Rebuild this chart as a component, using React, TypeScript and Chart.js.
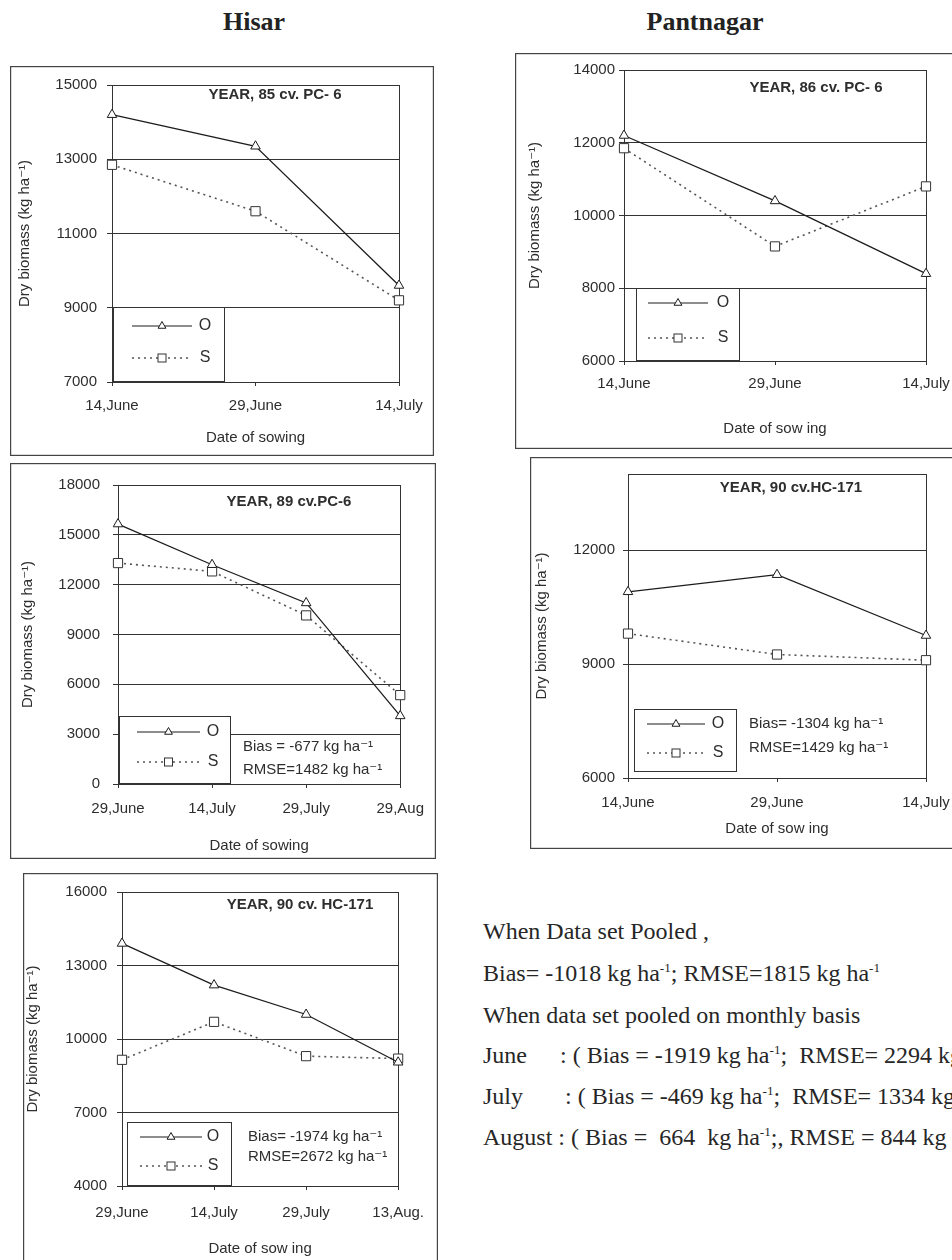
import React, { useEffect, useRef } from 'react';
import { Chart, registerables } from 'chart.js';

Chart.register(...registerables);

// ---------------- data ----------------
const hisar85Dates = ['14,June', '29,June', '14,July'];
const hisar85Observed = [14200, 13350, 9600];
const hisar85Simulated = [12850, 11600, 9200];
const hisar85YAxis = [7000, 15000, 2000];

const pant86Dates = ['14,June', '29,June', '14,July'];
const pant86Observed = [12200, 10400, 8400];
const pant86Simulated = [11850, 9150, 10800];
const pant86YAxis = [6000, 14000, 2000];

const hisar89Dates = ['29,June', '14,July', '29,July', '29,Aug'];
const hisar89Observed = [15650, 13200, 10900, 4100];
const hisar89Simulated = [13300, 12800, 10150, 5350];
const hisar89YAxis = [0, 18000, 3000];

const pant90Dates = ['14,June', '29,June', '14,July'];
const pant90Observed = [10900, 11350, 9750];
const pant90Simulated = [9800, 9250, 9100];
const pant90YAxis = [6000, 14000, 3000];

const hisar90Dates = ['29,June', '14,July', '29,July', '13,Aug.'];
const hisar90Observed = [13900, 12200, 11000, 9050];
const hisar90Simulated = [9150, 10700, 9300, 9200];
const hisar90YAxis = [4000, 16000, 3000];

const seriesNames = ['O', 'S'];

// ---------------- styling ----------------
const SANS = '"Liberation Sans", Arial, "DejaVu Sans", sans-serif';
const SERIF = '"Liberation Serif", "Times New Roman", "DejaVu Serif", serif';
const INK = '#333333';
const LINE = '#1c1c1c';
const DOT = '#555555';
const TXT = '#2e2e2e';
const FS = 15;

type Cfg = {
  box: number[];
  plot: number[];
  dates: string[];
  obs: number[];
  sim: number[];
  yAxis: number[];
  title: string;
  titleAt: number[];
  xTitle: string;
  yTitleX: number;
  xTitleY: number;
  yTickPad: number;
  xTickPad: number;
  legendBox: number[];
  legendRows: number[];
  legendLine: number[];
  legendText: number;
  stats?: string[];
  statsAt?: number[];
};

const Y_TITLE = 'Dry biomass (kg ha\u207B\u00B9)';

const panels: Cfg[] = [
  {
    box: [10, 66, 433, 455], plot: [112, 81, 398, 381],
    dates: hisar85Dates, obs: hisar85Observed, sim: hisar85Simulated, yAxis: hisar85YAxis,
    title: 'YEAR, 85 cv. PC- 6', titleAt: [275, 95],
    xTitle: 'Date of sowing', yTitleX: 25, xTitleY: 437, yTickPad: 10, xTickPad: 11,
    legendBox: [113, 307, 224, 381], legendRows: [326, 358], legendLine: [132, 192], legendText: 205,
  },
  {
    box: [515, 53, 990, 448], plot: [624, 70, 925, 360],
    dates: pant86Dates, obs: pant86Observed, sim: pant86Simulated, yAxis: pant86YAxis,
    title: 'YEAR, 86 cv. PC- 6', titleAt: [816, 88],
    xTitle: 'Date of sow ing', yTitleX: 535, xTitleY: 428, yTickPad: 4, xTickPad: 10,
    legendBox: [636, 288, 739, 360], legendRows: [303, 338], legendLine: [648, 708], legendText: 723,
  },
  {
    box: [10, 463, 435, 858], plot: [118, 480, 406, 783],
    dates: hisar89Dates, obs: hisar89Observed, sim: hisar89Simulated, yAxis: hisar89YAxis,
    title: 'YEAR, 89 cv.PC-6', titleAt: [289, 502],
    xTitle: 'Date of sowing', yTitleX: 28, xTitleY: 845, yTickPad: 13, xTickPad: 12,
    legendBox: [119, 716, 230, 783], legendRows: [732, 762], legendLine: [137, 200], legendText: 213,
    stats: ['Bias = -677 kg ha\u207B\u00B9', 'RMSE=1482 kg ha\u207B\u00B9'], statsAt: [243, 747, 770],
  },
  {
    box: [530, 457, 990, 848], plot: [628, 472, 925, 777],
    dates: pant90Dates, obs: pant90Observed, sim: pant90Simulated, yAxis: pant90YAxis,
    title: 'YEAR, 90 cv.HC-171', titleAt: [791, 488],
    xTitle: 'Date of sow ing', yTitleX: 542, xTitleY: 828, yTickPad: 8, xTickPad: 12,
    legendBox: [634, 709, 736, 771], legendRows: [724, 753], legendLine: [647, 705], legendText: 718,
    stats: ['Bias= -1304 kg ha\u207B\u00B9', 'RMSE=1429 kg ha\u207B\u00B9'], statsAt: [749, 724, 748],
  },
  {
    box: [23, 873, 437, 1290], plot: [122, 888, 407, 1185],
    dates: hisar90Dates, obs: hisar90Observed, sim: hisar90Simulated, yAxis: hisar90YAxis,
    title: 'YEAR, 90 cv. HC-171', titleAt: [300, 905],
    xTitle: 'Date of sow ing', yTitleX: 33, xTitleY: 1248, yTickPad: 10, xTickPad: 14,
    legendBox: [127, 1122, 231, 1185], legendRows: [1137, 1166], legendLine: [140, 202], legendText: 213,
    stats: ['Bias= -1974 kg ha\u207B\u00B9', 'RMSE=2672 kg ha\u207B\u00B9'], statsAt: [248, 1137, 1157],
  },
];

function drawTriangle(ctx: CanvasRenderingContext2D, x: number, y: number, r: number) {
  ctx.beginPath();
  ctx.moveTo(x, y - r);
  ctx.lineTo(x + r * 0.866, y + r * 0.5);
  ctx.lineTo(x - r * 0.866, y + r * 0.5);
  ctx.closePath();
  ctx.fillStyle = '#fff';
  ctx.fill();
  ctx.stroke();
}

function drawSquare(ctx: CanvasRenderingContext2D, x: number, y: number, s: number) {
  ctx.fillStyle = '#fff';
  ctx.fillRect(x - s / 2, y - s / 2, s, s);
  ctx.strokeRect(x - s / 2, y - s / 2, s, s);
}

function makeDecor(cfg: Cfg) {
  const ox = cfg.box[0];
  const oy = cfg.box[1];
  return {
    id: 'decor',
    beforeDatasetsDraw(chart: any) {
      const ctx: CanvasRenderingContext2D = chart.ctx;
      const a = chart.chartArea;
      ctx.save();
      ctx.strokeStyle = INK;
      ctx.lineWidth = 1;
      ctx.strokeRect(Math.round(a.left) + 0.5, Math.round(a.top) + 0.5, Math.round(a.right - a.left), Math.round(a.bottom - a.top));
      ctx.restore();
    },
    afterDraw(chart: any) {
      const ctx: CanvasRenderingContext2D = chart.ctx;
      ctx.save();
      // outer frame of the panel
      ctx.strokeStyle = '#444';
      ctx.lineWidth = 1.2;
      ctx.strokeRect(0.6, 0.6, chart.width - 1.2, chart.height - 1.2);

      // inner title
      ctx.fillStyle = TXT;
      ctx.font = `bold ${FS}px ${SANS}`;
      ctx.textAlign = 'center';
      ctx.textBaseline = 'middle';
      ctx.fillText(cfg.title, cfg.titleAt[0] - ox, cfg.titleAt[1] - oy);

      // legend box
      const [lx0, ly0, lx1, ly1] = cfg.legendBox;
      ctx.fillStyle = '#fff';
      ctx.fillRect(lx0 - ox, ly0 - oy, lx1 - lx0, ly1 - ly0);
      ctx.strokeStyle = INK;
      ctx.lineWidth = 1;
      ctx.strokeRect(lx0 - ox + 0.5, ly0 - oy + 0.5, lx1 - lx0, ly1 - ly0);

      const xa = cfg.legendLine[0] - ox;
      const xb = cfg.legendLine[1] - ox;
      const xm = (xa + xb) / 2;
      const r1 = cfg.legendRows[0] - oy;
      const r2 = cfg.legendRows[1] - oy;

      // O row
      ctx.strokeStyle = LINE;
      ctx.lineWidth = 1.2;
      ctx.setLineDash([]);
      ctx.beginPath();
      ctx.moveTo(xa, r1);
      ctx.lineTo(xb, r1);
      ctx.stroke();
      ctx.lineWidth = 1;
      drawTriangle(ctx, xm, r1, 4.5);

      // S row
      ctx.strokeStyle = DOT;
      ctx.lineWidth = 1.5;
      ctx.setLineDash([2, 4]);
      ctx.beginPath();
      ctx.moveTo(xa, r2);
      ctx.lineTo(xb, r2);
      ctx.stroke();
      ctx.setLineDash([]);
      ctx.strokeStyle = '#333';
      ctx.lineWidth = 1;
      drawSquare(ctx, xm, r2, 8);

      ctx.fillStyle = TXT;
      ctx.font = `${FS + 1}px ${SANS}`;
      ctx.textAlign = 'center';
      ctx.fillText(seriesNames[0], cfg.legendText - ox, r1);
      ctx.fillText(seriesNames[1], cfg.legendText - ox, r2);

      // statistics
      if (cfg.stats && cfg.statsAt) {
        ctx.font = `${FS}px ${SANS}`;
        ctx.textAlign = 'left';
        ctx.fillText(cfg.stats[0], cfg.statsAt[0] - ox, cfg.statsAt[1] - oy);
        ctx.fillText(cfg.stats[1], cfg.statsAt[0] - ox, cfg.statsAt[2] - oy);
      }
      ctx.restore();
    },
  };
}

function buildConfig(cfg: Cfg): any {
  const [bx0, by0, bx1, by1] = cfg.box;
  const [px0, py0, px1, py1] = cfg.plot;
  const [ymin, ymax, ystep] = cfg.yAxis;
  const lh = FS * 1.2;
  const font = { family: SANS, size: FS, weight: 'normal' as const };
  return {
    type: 'line',
    data: {
      labels: cfg.dates,
      datasets: [
        {
          label: seriesNames[0],
          data: cfg.obs,
          borderColor: LINE,
          borderWidth: 1.3,
          pointStyle: 'triangle',
          pointRadius: 5.5,
          pointBorderColor: LINE,
          pointBackgroundColor: '#fff',
          pointBorderWidth: 1,
          tension: 0,
          clip: false,
        },
        {
          label: seriesNames[1],
          data: cfg.sim,
          borderColor: DOT,
          borderWidth: 1.6,
          borderDash: [2, 4],
          pointStyle: 'rect',
          pointRadius: 6.5,
          pointBorderColor: '#333',
          pointBackgroundColor: '#fff',
          pointBorderWidth: 1,
          tension: 0,
          clip: false,
        },
      ],
    },
    options: {
      animation: false,
      responsive: false,
      maintainAspectRatio: false,
      devicePixelRatio: 1,
      events: [],
      layout: { padding: { left: 0, top: py0 - by0, right: bx1 - px1, bottom: 0 } },
      plugins: { legend: { display: false }, tooltip: { enabled: false } },
      scales: {
        x: {
          type: 'category',
          offset: false,
          grid: { drawOnChartArea: false, drawTicks: true, tickLength: 4, color: INK },
          border: { display: true, color: INK, width: 1 },
          ticks: { color: TXT, font, padding: cfg.xTickPad, maxRotation: 0, minRotation: 0, autoSkip: false },
          title: {
            display: true, text: cfg.xTitle, color: TXT, font,
            padding: { top: 0, bottom: by1 - cfg.xTitleY - lh / 2 },
          },
          afterFit: (s: any) => { s.height = by1 - py1; },
        },
        y: {
          min: ymin,
          max: ymax,
          afterBuildTicks: (s: any) => {
            const t: { value: number }[] = [];
            for (let v = ymin; v <= ymax + 1e-6; v += ystep) t.push({ value: v });
            s.ticks = t;
          },
          ticks: {
            color: TXT,
            font,
            padding: cfg.yTickPad,
            callback: (v: any) => String(v),
          },
          grid: { color: INK, lineWidth: 1, tickLength: 5, drawTicks: true },
          border: { display: true, color: INK, width: 1 },
          title: {
            display: true, text: Y_TITLE, color: TXT, font,
            padding: { top: cfg.yTitleX - bx0 - lh / 2, bottom: 0 },
          },
          afterFit: (s: any) => { s.width = px0 - bx0; },
        },
      },
    },
    plugins: [makeDecor(cfg)],
  };
}

function Panel({ cfg }: { cfg: Cfg }) {
  const ref = useRef<HTMLCanvasElement>(null);
  useEffect(() => {
    const c = ref.current;
    if (!c) return;
    const chart = new Chart(c, buildConfig(cfg));
    return () => chart.destroy();
  }, [cfg]);
  const w = cfg.box[2] - cfg.box[0] + 1;
  const h = cfg.box[3] - cfg.box[1] + 1;
  return (
    <canvas
      ref={ref}
      width={w}
      height={h}
      style={{ position: 'absolute', left: cfg.box[0], top: cfg.box[1], width: w, height: h }}
    />
  );
}

const noteSize = 24;
const noteLine = 30;
function Note({ y, children }: { y: number; children: React.ReactNode }) {
  return (
    <div
      style={{
        position: 'absolute', left: 483, top: y - noteLine / 2, whiteSpace: 'nowrap',
        fontFamily: SERIF, fontSize: noteSize, lineHeight: `${noteLine}px`, color: '#262626',
      }}
    >
      {children}
    </div>
  );
}

const sup: React.CSSProperties = { fontSize: '0.55em', verticalAlign: 'super', lineHeight: 0 };

export default function App() {
  return (
    <div
      style={{
        position: 'fixed', left: 0, top: 0, width: 952, height: 1260, overflow: 'hidden',
        background: '#fff',
      }}
    >
      <div
        style={{
          position: 'absolute', left: 4, width: 500, top: 6, textAlign: 'center',
          fontFamily: SERIF, fontWeight: 'bold', fontSize: 26, lineHeight: '32px', color: '#222',
        }}
      >
        Hisar
      </div>
      <div
        style={{
          position: 'absolute', left: 555, width: 300, top: 6, textAlign: 'center',
          fontFamily: SERIF, fontWeight: 'bold', fontSize: 26, lineHeight: '32px', color: '#222',
        }}
      >
        Pantnagar
      </div>

      {panels.map((p, i) => (
        <Panel key={i} cfg={p} />
      ))}

      <Note y={931}>When Data set Pooled ,</Note>
      <Note y={973}>
        Bias= -1018 kg ha<span style={sup}>-1</span>; RMSE=1815 kg ha<span style={sup}>-1</span>
      </Note>
      <Note y={1015}>When data set pooled on monthly basis</Note>
      <Note y={1055}>
        <span style={{ display: 'inline-block', width: 77 }}>June</span>: ( Bias = -1919 kg ha<span style={sup}>-1</span>;&nbsp; RMSE= 2294 kg ha<span style={sup}>-1</span> )
      </Note>
      <Note y={1096}>
        <span style={{ display: 'inline-block', width: 82 }}>July</span>: ( Bias = -469 kg ha<span style={sup}>-1</span>;&nbsp; RMSE= 1334 kg ha<span style={sup}>-1</span> )
      </Note>
      <Note y={1137}>
        August : ( Bias =&nbsp; 664&nbsp; kg ha<span style={sup}>-1</span>;, RMSE = 844 kg ha<span style={sup}>-1</span> )
      </Note>
    </div>
  );
}
